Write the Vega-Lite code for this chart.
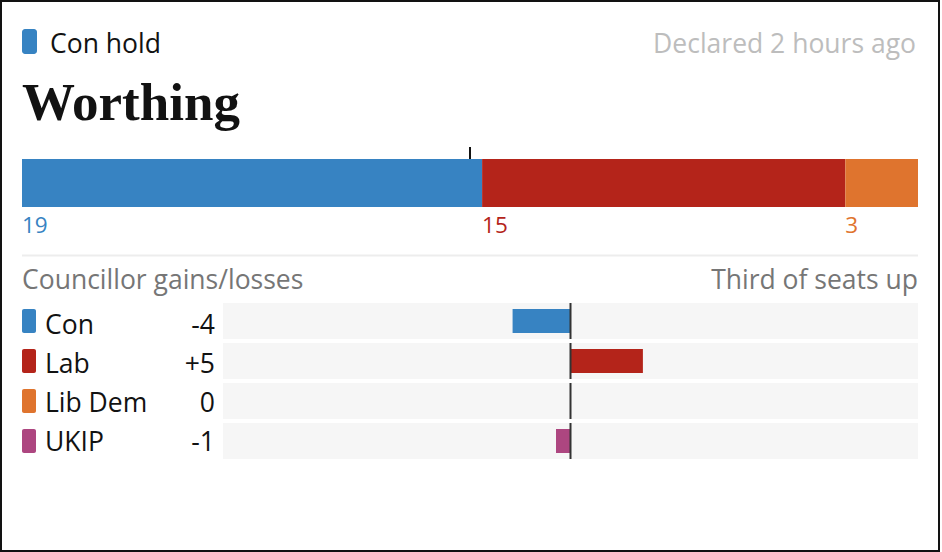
{
  "$schema": "https://vega.github.io/schema/vega-lite/v6.json",
  "width": 938,
  "height": 550,
  "autosize": "none",
  "padding": {"left": 1, "top": 1, "right": 3, "bottom": 1},
  "background": "white",
  "datasets": {
    "result": [
      {"party": "Con", "status": "Con hold", "council": "Worthing", "declared": "Declared 2 hours ago", "left": "Councillor gains/losses", "right": "Third of seats up"}
    ],
    "seats": [
      {"council": "Worthing", "party": "Con", "seats": 19},
      {"council": "Worthing", "party": "Lab", "seats": 15},
      {"council": "Worthing", "party": "Lib Dem", "seats": 3}
    ],
    "majority": [
      {"council": "Worthing", "half": 18.5}
    ],
    "changes": [
      {"party": "Con", "change": -4},
      {"party": "Lab", "change": 5},
      {"party": "Lib Dem", "change": 0},
      {"party": "UKIP", "change": -1}
    ]
  },
  "resolve": {"scale": {"x": "independent", "y": "independent"}},
  "layer": [
    {
      "data": {"name": "result"},
      "mark": {"type": "bar", "cornerRadius": 3, "x2Offset": 15},
      "encoding": {
        "x": {"datum": 0, "type": "quantitative", "scale": {"domain": [0, 37], "range": [21, 917]}, "axis": null},
        "x2": {"datum": 0},
        "y": {"field": "status", "type": "nominal", "scale": {"range": [28, 53], "paddingInner": 0, "paddingOuter": 0}, "axis": null},
        "color": {"field": "party", "type": "nominal", "legend": null}
      }
    },
    {
      "data": {"name": "result"},
      "mark": {"type": "text", "align": "left", "baseline": "alphabetic", "dx": 28, "dy": 11, "fontSize": 26.5, "color": "#121212"},
      "encoding": {
        "x": {"datum": 0, "type": "quantitative", "scale": {"domain": [0, 37], "range": [21, 917]}, "axis": null},
        "y": {"field": "status", "type": "nominal", "scale": {"range": [28, 53], "paddingInner": 0, "paddingOuter": 0}, "axis": null},
        "text": {"field": "status"}
      }
    },
    {
      "data": {"name": "result"},
      "mark": {"type": "text", "align": "right", "baseline": "alphabetic", "dx": -2, "dy": 11, "fontSize": 26.5, "color": "#bdbdbd"},
      "encoding": {
        "x": {"datum": 37, "type": "quantitative", "scale": {"domain": [0, 37], "range": [21, 917]}, "axis": null},
        "y": {"field": "status", "type": "nominal", "scale": {"range": [28, 53], "paddingInner": 0, "paddingOuter": 0}, "axis": null},
        "text": {"field": "declared"}
      }
    },
    {
      "data": {"name": "result"},
      "mark": {"type": "text", "align": "left", "baseline": "alphabetic", "dy": 78, "fontSize": 53, "font": "Liberation Serif", "fontWeight": "bold", "color": "#121212"},
      "encoding": {
        "x": {"datum": 0, "type": "quantitative", "scale": {"domain": [0, 37], "range": [21, 917]}, "axis": null},
        "y": {"field": "status", "type": "nominal", "scale": {"range": [28, 53], "paddingInner": 0, "paddingOuter": 0}, "axis": null},
        "text": {"field": "council"}
      }
    },
    {
      "data": {"name": "seats"},
      "transform": [{"stack": "seats", "groupby": ["council"], "as": ["s0", "s1"]}],
      "mark": {"type": "bar"},
      "encoding": {
        "x": {"field": "s0", "type": "quantitative", "scale": {"domain": [0, 37], "range": [21, 917]}, "axis": null},
        "x2": {"field": "s1"},
        "y": {"field": "council", "type": "nominal", "scale": {"range": [158, 206], "paddingInner": 0, "paddingOuter": 0}, "axis": null},
        "color": {"field": "party", "type": "nominal", "legend": null}
      }
    },
    {
      "data": {"name": "seats"},
      "transform": [{"stack": "seats", "groupby": ["council"], "as": ["s0", "s1"]}],
      "mark": {"type": "text", "align": "left", "baseline": "alphabetic", "dy": 50, "fontSize": 22.5},
      "encoding": {
        "x": {"field": "s0", "type": "quantitative", "scale": {"domain": [0, 37], "range": [21, 917]}, "axis": null},
        "y": {"field": "council", "type": "nominal", "scale": {"range": [158, 206], "paddingInner": 0, "paddingOuter": 0}, "axis": null},
        "text": {"field": "seats"},
        "color": {"field": "party", "type": "nominal", "legend": null}
      }
    },
    {
      "data": {"name": "majority"},
      "mark": {"type": "tick", "orient": "vertical", "size": 12, "thickness": 2, "yOffset": -30, "color": "#121212", "opacity": 1},
      "encoding": {
        "x": {"field": "half", "type": "quantitative", "scale": {"domain": [0, 37], "range": [21, 917]}, "axis": null},
        "y": {"field": "council", "type": "nominal", "scale": {"range": [158, 206], "paddingInner": 0, "paddingOuter": 0}, "axis": null}
      }
    },
    {
      "data": {"name": "result"},
      "mark": {"type": "rule", "strokeWidth": 2, "color": "#ededed", "yOffset": 72.5},
      "encoding": {
        "x": {"datum": 0, "type": "quantitative", "scale": {"domain": [0, 37], "range": [21, 917]}, "axis": null},
        "x2": {"datum": 37},
        "y": {"field": "council", "type": "nominal", "scale": {"range": [158, 206], "paddingInner": 0, "paddingOuter": 0}, "axis": null}
      }
    },
    {
      "data": {"name": "result"},
      "mark": {"type": "text", "align": "left", "baseline": "alphabetic", "dy": 106, "fontSize": 26.5, "color": "#767676"},
      "encoding": {
        "x": {"datum": 0, "type": "quantitative", "scale": {"domain": [0, 37], "range": [21, 917]}, "axis": null},
        "y": {"field": "council", "type": "nominal", "scale": {"range": [158, 206], "paddingInner": 0, "paddingOuter": 0}, "axis": null},
        "text": {"field": "left"}
      }
    },
    {
      "data": {"name": "result"},
      "mark": {"type": "text", "align": "right", "baseline": "alphabetic", "dy": 106, "fontSize": 26.5, "color": "#767676"},
      "encoding": {
        "x": {"datum": 37, "type": "quantitative", "scale": {"domain": [0, 37], "range": [21, 917]}, "axis": null},
        "y": {"field": "council", "type": "nominal", "scale": {"range": [158, 206], "paddingInner": 0, "paddingOuter": 0}, "axis": null},
        "text": {"field": "right"}
      }
    },
    {
      "data": {"name": "changes"},
      "mark": {"type": "bar", "color": "#f6f6f6"},
      "encoding": {
        "x": {"datum": -24, "type": "quantitative", "scale": {"domain": [-24, 24], "range": [222, 917]}, "axis": null},
        "x2": {"datum": 24},
        "y": {"field": "party", "type": "nominal", "sort": null, "scale": {"range": [302, 458], "paddingInner": 0.1, "paddingOuter": 0}, "axis": null}
      }
    },
    {
      "data": {"name": "changes"},
      "mark": {"type": "bar", "height": {"band": 0.6667}},
      "encoding": {
        "x": {"field": "change", "type": "quantitative", "scale": {"domain": [-24, 24], "range": [222, 917]}, "axis": null},
        "x2": {"datum": 0},
        "y": {"field": "party", "type": "nominal", "sort": null, "scale": {"range": [302, 458], "paddingInner": 0.1, "paddingOuter": 0}, "axis": null},
        "color": {"field": "party", "type": "nominal", "legend": null}
      }
    },
    {
      "data": {"name": "changes"},
      "mark": {"type": "tick", "orient": "vertical", "size": 36, "thickness": 2, "color": "#333333", "opacity": 1},
      "encoding": {
        "x": {"datum": 0, "type": "quantitative", "scale": {"domain": [-24, 24], "range": [222, 917]}, "axis": null},
        "y": {"field": "party", "type": "nominal", "sort": null, "scale": {"range": [302, 458], "paddingInner": 0.1, "paddingOuter": 0}, "axis": null}
      }
    },
    {
      "data": {"name": "changes"},
      "mark": {"type": "bar", "height": {"band": 0.6667}, "cornerRadius": 2, "x2Offset": 14},
      "encoding": {
        "x": {"datum": 0, "type": "quantitative", "scale": {"domain": [0, 37], "range": [21, 917]}, "axis": null},
        "x2": {"datum": 0},
        "y": {"field": "party", "type": "nominal", "sort": null, "scale": {"range": [302, 458], "paddingInner": 0.1, "paddingOuter": 0}, "axis": null},
        "color": {"field": "party", "type": "nominal", "legend": null}
      }
    },
    {
      "data": {"name": "changes"},
      "mark": {"type": "text", "align": "left", "baseline": "alphabetic", "dx": 23, "dy": 11, "fontSize": 26.5, "color": "#121212"},
      "encoding": {
        "x": {"datum": 0, "type": "quantitative", "scale": {"domain": [0, 37], "range": [21, 917]}, "axis": null},
        "y": {"field": "party", "type": "nominal", "sort": null, "scale": {"range": [302, 458], "paddingInner": 0.1, "paddingOuter": 0}, "axis": null},
        "text": {"field": "party"}
      }
    },
    {
      "data": {"name": "changes"},
      "transform": [{"calculate": "datum.change > 0 ? '+' + datum.change : '' + datum.change", "as": "label"}],
      "mark": {"type": "text", "align": "right", "baseline": "alphabetic", "dx": -8, "dy": 11, "fontSize": 26.5, "color": "#121212"},
      "encoding": {
        "x": {"datum": -24, "type": "quantitative", "scale": {"domain": [-24, 24], "range": [222, 917]}, "axis": null},
        "y": {"field": "party", "type": "nominal", "sort": null, "scale": {"range": [302, 458], "paddingInner": 0.1, "paddingOuter": 0}, "axis": null},
        "text": {"field": "label"}
      }
    }
  ],
  "config": {
    "view": {"stroke": "#121212", "strokeWidth": 2, "fill": "white"},
    "text": {"font": "Open Sans"},
    "bar": {"opacity": 1},
    "range": {"category": ["#3783c2", "#b4241a", "#df742e", "#ad4680"]},
    "scale": {"bandPaddingInner": 0}
  }
}
